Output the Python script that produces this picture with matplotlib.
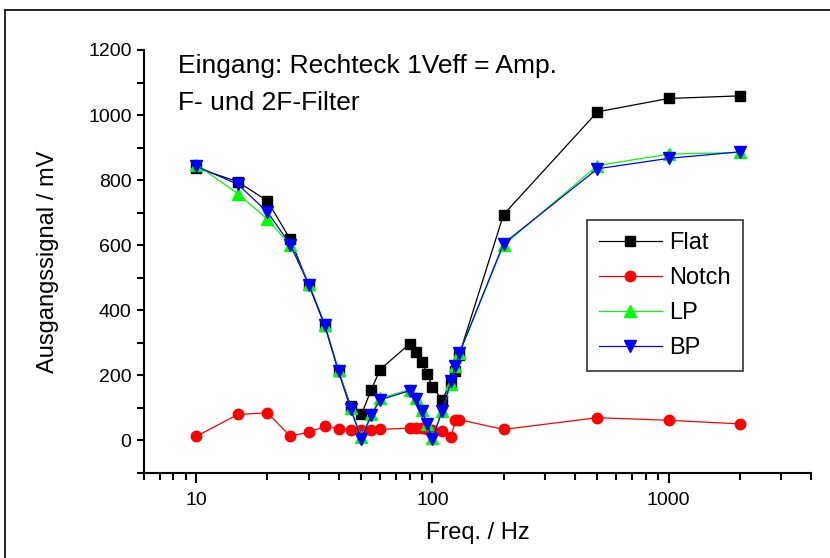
import matplotlib
matplotlib.use("Agg")
import matplotlib.pyplot as plt
from matplotlib.lines import Line2D
from matplotlib.ticker import FixedLocator, NullFormatter

plt.rcParams["font.family"] = ["Liberation Sans", "DejaVu Sans"]

# ── Daten ───────────────────────────────────────────────
freq  = [10, 15, 20, 25, 30, 35, 40, 45, 50, 55, 60, 80, 85, 90, 95, 100,
         110, 120, 125, 130, 200, 500, 1000, 2000]
flat  = [838, 795, 736, 618, 477, 352, 213, 107, 80, 155, 218, 297, 273, 240,
         205, 165, 125, 180, 213, 264, 694, 1010, 1051, 1059]
notch = [13, 80, 85, 13, 26, 43, 36, 33, 33, 33, 34, 38, 38, 37, 35, 33,
         30, 11, 63, 64, 34, 70, 62, 51]
lp    = [848, 758, 680, 600, 482, 356, 216, 100, 10, 80, 130, 156, 132, 95,
         52, 8, 92, 175, 230, 268, 600, 845, 880, 885]
bp    = [843, 787, 702, 602, 477, 355, 212, 97, 5, 77, 125, 153, 128, 92,
         51, 5, 92, 184, 230, 268, 605, 835, 867, 887]

series = [
    ("Flat",  flat,  "#000000", "s", 7),
    ("Notch", notch, "#ff0000", "o", 7.5),
    ("LP",    lp,    "#00ff00", "^", 8),
    ("BP",    bp,    "#0000ff", "v", 8),
]

fig = plt.figure(figsize=(8.3, 5.58), dpi=100)
ax = fig.add_axes([0.1735, 0.1523, 0.8032, 0.7581])

for name, vals, col, mk, ms in series:
    ax.plot(freq, vals, color=col, lw=0.9, marker=mk, ms=ms,
            mfc=col, mec=col, label=name)

ax.set_xscale("log")
ax.set_xlim(6, 4000)
ax.set_ylim(-100, 1200)
ax.set_xticks([10, 100, 1000])
ax.set_xticklabels(["10", "100", "1000"])
ax.xaxis.set_minor_locator(FixedLocator(
    [6, 7, 8, 9, 20, 30, 40, 50, 60, 70, 80, 90,
     200, 300, 400, 500, 600, 700, 800, 900, 2000, 3000, 4000]))
ax.xaxis.set_minor_formatter(NullFormatter())
ax.set_yticks(range(0, 1201, 200))
ax.yaxis.set_minor_locator(FixedLocator(range(-100, 1201, 100)))

for s in ("top", "right"):
    ax.spines[s].set_visible(False)
for s in ("left", "bottom"):
    ax.spines[s].set_linewidth(1.5)

ax.tick_params(axis="both", which="major", direction="out", width=1.5,
               labelsize=14)
ax.tick_params(axis="x", which="major", length=7, pad=7)
ax.tick_params(axis="y", which="major", length=5, pad=4)
ax.tick_params(axis="both", which="minor", direction="out", width=1.5, length=5)

ax.set_xlabel("Freq. / Hz", fontsize=17, labelpad=9)
ax.set_ylabel("Ausgangssignal / mV", fontsize=17, labelpad=21)

ax.text(0.051, 0.946, "Eingang: Rechteck 1Veff = Amp.", transform=ax.transAxes,
        fontsize=19, va="baseline", ha="left")
ax.text(0.051, 0.858, "F- und 2F-Filter", transform=ax.transAxes,
        fontsize=19, va="baseline", ha="left")

leg = ax.legend(loc="upper left", bbox_to_anchor=(0.7069, 0.6057),
                bbox_transform=fig.transFigure, borderaxespad=0,
                fontsize=17, frameon=True, fancybox=False, edgecolor="black",
                handlelength=2.67, handletextpad=0.34, labelspacing=0.55,
                borderpad=0.5)
leg.get_frame().set_linewidth(1.2)

# Rahmen um die Grafik (nur oben und links sichtbar)
fig.add_artist(Line2D([5 / 830, 1], [1 - 10 / 558] * 2,
                      transform=fig.transFigure, color="black", lw=1.2))
fig.add_artist(Line2D([5 / 830] * 2, [0, 1 - 10 / 558],
                      transform=fig.transFigure, color="black", lw=1.2))

fig.savefig("out.png", dpi=100)
